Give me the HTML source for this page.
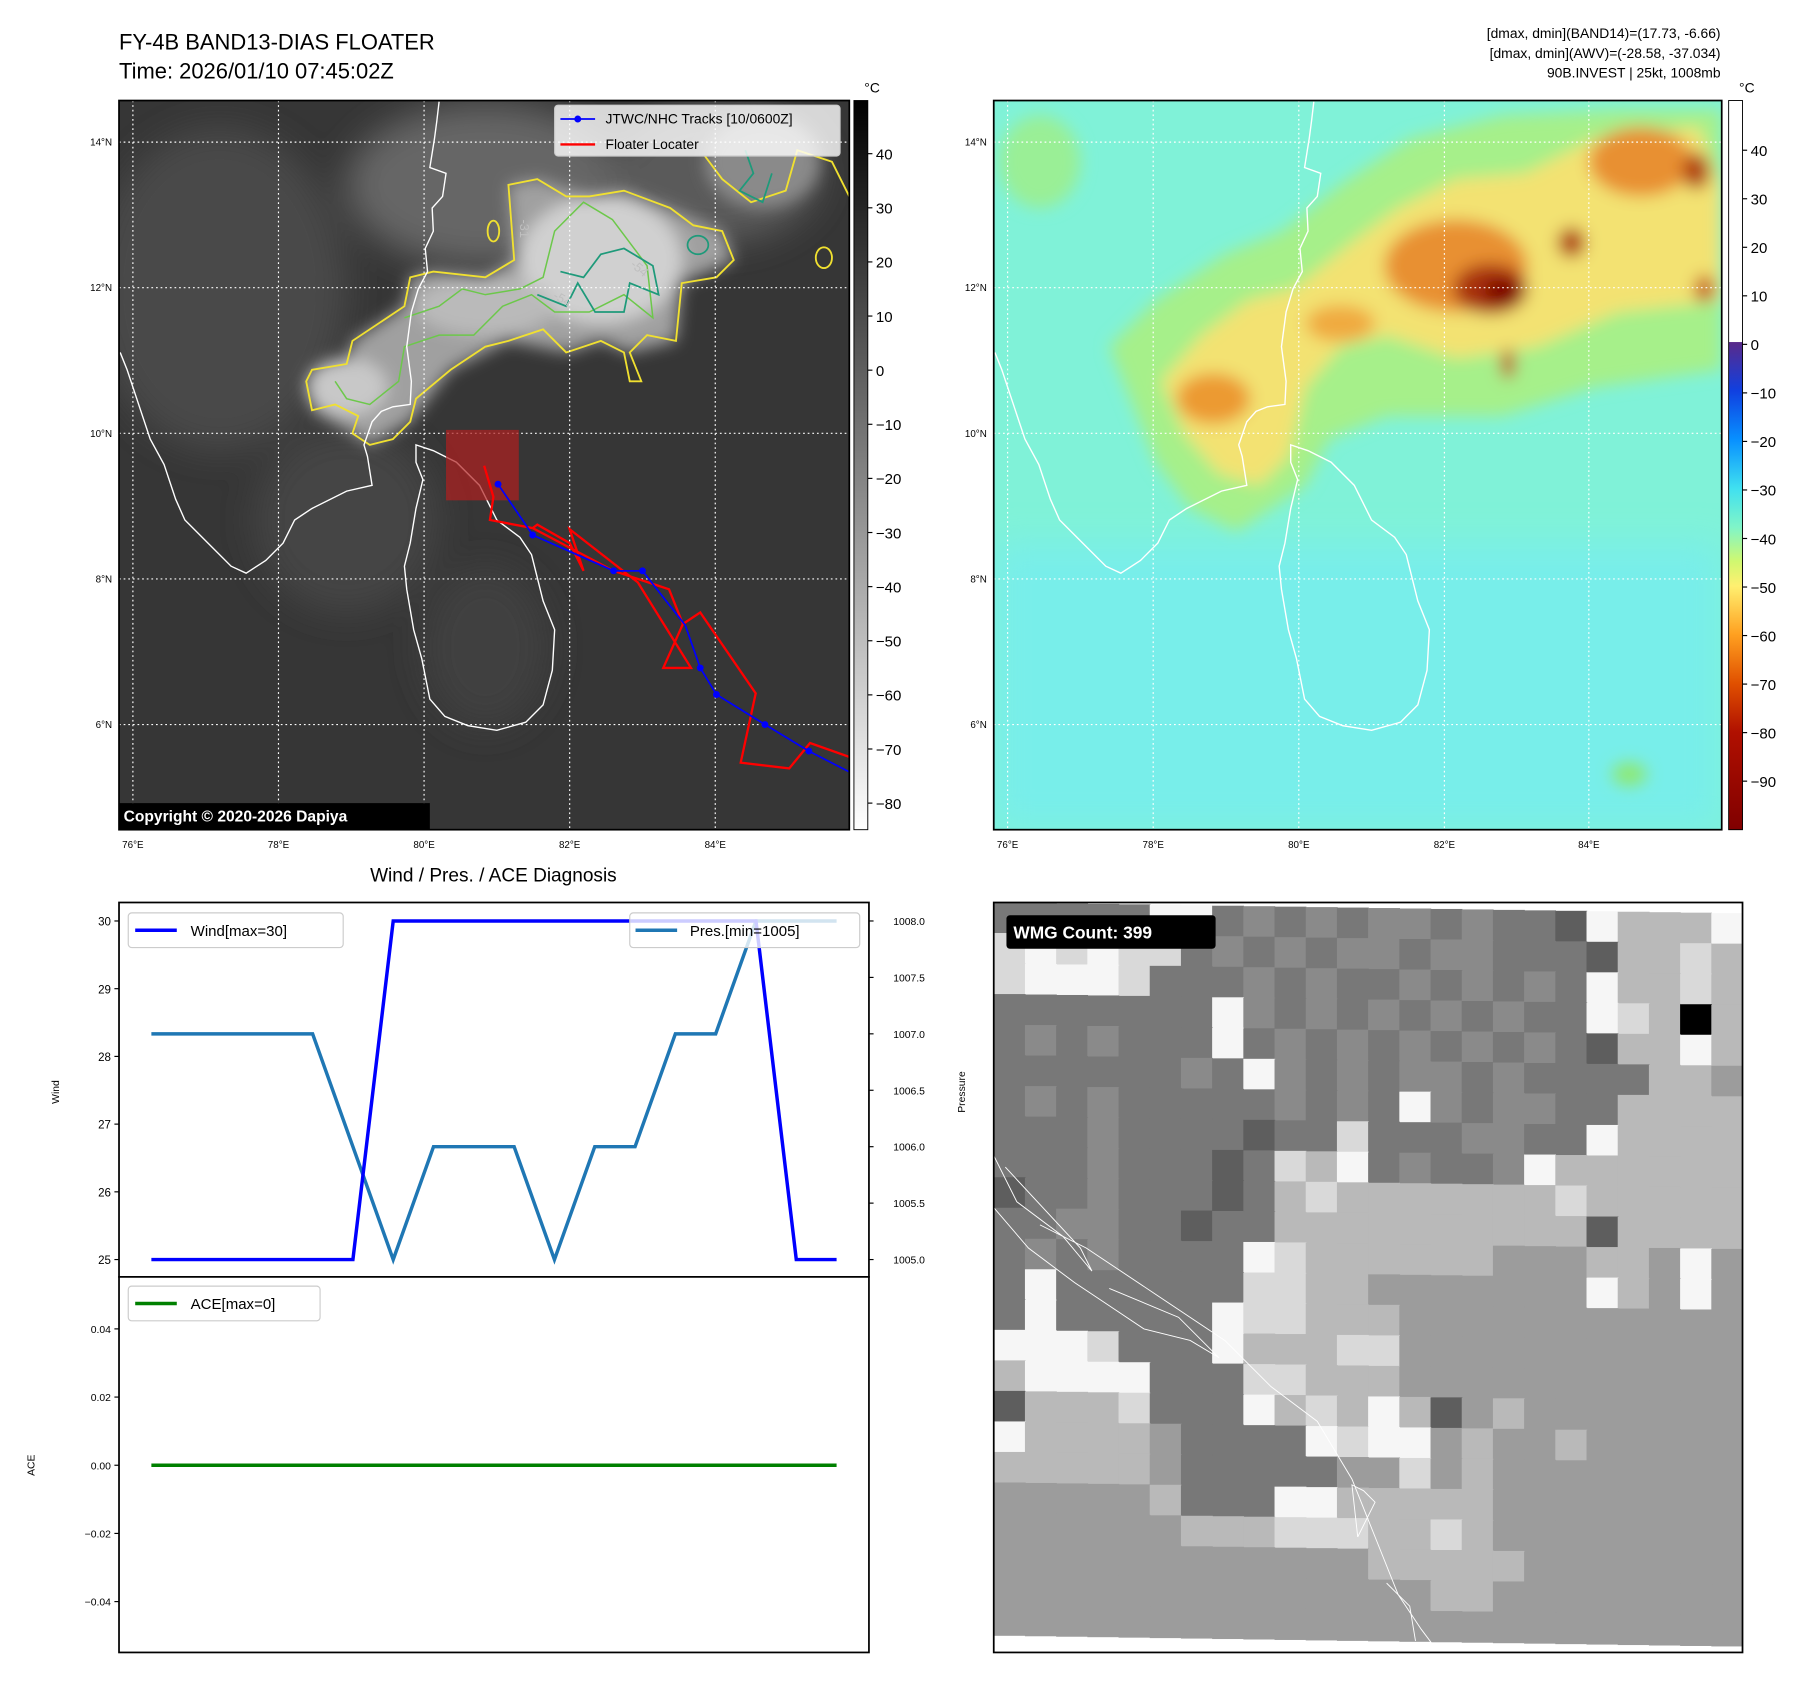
<!DOCTYPE html>
<html><head><meta charset="utf-8"><style>
html,body{margin:0;padding:0;background:#fff}
svg{display:block;font-family:"Liberation Sans",sans-serif}
</style></head><body>
<svg id="fig" width="1813" height="1690" viewBox="0 0 1569 1462.5" preserveAspectRatio="none" xmlns="http://www.w3.org/2000/svg">
<defs>
<filter id="b8" x="-20%" y="-20%" width="140%" height="140%"><feGaussianBlur stdDeviation="7"/></filter>
<filter id="b15" x="-30%" y="-30%" width="160%" height="160%"><feGaussianBlur stdDeviation="15"/></filter>
<clipPath id="c1"><rect x="103" y="87" width="632" height="631"/></clipPath>
<clipPath id="c2"><rect x="860" y="87" width="630" height="631"/></clipPath>
<clipPath id="c3"><rect x="860" y="781" width="648" height="649"/></clipPath>
<linearGradient id="gcb1" x1="0" y1="0" x2="0" y2="1"><stop offset="0" stop-color="#000"/><stop offset="1" stop-color="#fff"/></linearGradient>
<linearGradient id="gcb2" x1="0" y1="0" x2="0" y2="1">
<stop offset="0" stop-color="#5a2a8a"/><stop offset="0.1" stop-color="#1040e0"/><stop offset="0.2" stop-color="#0890ff"/><stop offset="0.3" stop-color="#40e0f0"/><stop offset="0.38" stop-color="#80f5c8"/><stop offset="0.45" stop-color="#d0f870"/><stop offset="0.5" stop-color="#fff070"/><stop offset="0.6" stop-color="#ffa020"/><stop offset="0.7" stop-color="#e05000"/><stop offset="0.8" stop-color="#b01000"/><stop offset="1" stop-color="#800000"/></linearGradient>
<g id="coast" fill="none" stroke="#fff" stroke-width="1.2">
<polyline points="380,88 378,105 376,120 372,145 386,150 383,170 374,180 375,200 368,215 370,235 362,250 356,270 352,300 356,330 355,350 340,352 330,356 322,365 315,385 318,395 322,420 300,425 270,440 255,450 245,470 230,485 213,496 200,490 180,470 160,450 152,432 142,402 130,380 120,350 110,320 104,305"/>
<polygon points="360,385 375,390 395,400 415,420 430,450 450,465 460,480 470,520 480,545 478,580 470,610 455,625 430,632 405,628 385,620 372,605 365,570 358,545 352,510 350,490 355,470 360,440 366,415 360,400"/>
</g>
</defs>

<text x="103" y="43" font-size="19">FY-4B BAND13-DIAS FLOATER</text>
<text x="103" y="68" font-size="19">Time: 2026/01/10 07:45:02Z</text>
<g font-size="12" text-anchor="end">
<text x="1489" y="33">[dmax, dmin](BAND14)=(17.73, -6.66)</text>
<text x="1489" y="50">[dmax, dmin](AWV)=(-28.58, -37.034)</text>
<text x="1489" y="67">90B.INVEST | 25kt, 1008mb</text></g>

<!-- Panel 1 -->
<g clip-path="url(#c1)">
<rect x="103" y="87" width="632" height="631" fill="#363636"/>
<g filter="url(#b15)">
<ellipse cx="190" cy="250" rx="110" ry="140" fill="#4a4a4a"/>
<ellipse cx="300" cy="450" rx="80" ry="80" fill="#444"/>
<ellipse cx="420" cy="560" rx="55" ry="70" fill="#404040"/>
<ellipse cx="420" cy="160" rx="120" ry="70" fill="#666"/>
<ellipse cx="620" cy="150" rx="90" ry="60" fill="#5a5a5a"/>
</g>
<g filter="url(#b8)">
<polygon points="270,320 300,315 305,295 350,265 355,240 375,235 420,240 445,225 440,160 465,155 510,170 540,165 580,180 625,200 635,225 590,245 585,295 545,305 520,295 490,305 440,295 390,320 355,365 320,385 305,375 270,355" fill="#a0a0a0"/>
<ellipse cx="520" cy="225" rx="70" ry="55" fill="#d0d0d0"/>
<ellipse cx="300" cy="335" rx="35" ry="25" fill="#c8c8c8"/>
<ellipse cx="420" cy="265" rx="60" ry="25" fill="#bababa"/>
<ellipse cx="660" cy="140" rx="50" ry="40" fill="#8a8a8a"/>
</g>
<g fill="none" stroke="#f0e030" stroke-width="1.6">
<polygon points="270,320 300,315 305,295 350,265 355,240 375,235 420,240 445,225 440,160 465,155 490,170 510,170 540,165 580,180 600,195 625,200 635,225 620,240 590,245 585,295 560,290 545,305 555,330 545,330 540,305 520,295 490,305 470,285 440,295 420,300 390,320 360,345 355,365 340,380 320,385 305,375 310,360 290,350 270,355 265,330"/>
<polyline points="610,135 625,155 650,175 680,165 690,130 720,140 735,170"/>
<ellipse cx="427" cy="200" rx="5" ry="9"/><ellipse cx="713" cy="223" rx="7" ry="9"/>
</g>
<g fill="none" stroke="#6cc84a" stroke-width="1.3">
<polyline points="290,330 300,345 320,350 345,330 350,300 380,290 410,290 435,265 460,255 480,270 510,270 540,255 565,275 560,230 530,190 505,175 480,200 470,240 450,250 420,255 400,250 380,265 350,275"/>
</g>
<g fill="none" stroke="#1e9a7a" stroke-width="1.5">
<polyline points="465,255 490,265 500,245 515,270 540,270 545,245 570,255 565,230 540,215 520,220 505,240 485,235"/>
<ellipse cx="604" cy="212" rx="9" ry="8"/><polyline points="645,130 652,150 640,165 660,175 668,150"/>
</g>
<g fill="#bfbfbf" font-size="11">
<text x="450" y="190" transform="rotate(90 450 190)">-31</text>
<text x="545" y="230" transform="rotate(40 545 230)">-54</text>
<text x="478" y="258" transform="rotate(30 478 258)">-54</text></g>
<g stroke="#fff" stroke-width="1" stroke-dasharray="1.5,2.5">
<line x1="115" y1="87" x2="115" y2="718"/><line x1="241" y1="87" x2="241" y2="718"/><line x1="367" y1="87" x2="367" y2="718"/><line x1="493" y1="87" x2="493" y2="718"/><line x1="619" y1="87" x2="619" y2="718"/>
<line x1="103" y1="123" x2="735" y2="123"/><line x1="103" y1="249" x2="735" y2="249"/><line x1="103" y1="375" x2="735" y2="375"/><line x1="103" y1="501" x2="735" y2="501"/><line x1="103" y1="627" x2="735" y2="627"/></g>
<use href="#coast"/>
<rect x="386" y="372" width="63" height="61" fill="#b02020" fill-opacity="0.7"/>
<polyline fill="none" stroke="#f00" stroke-width="2" points="419,403 427,430 424,450 461,457 531,494 579,510 591,540 574,578 598,578 552,504 493,458 505,494 493,470 465,454 461,457"/>
<polyline fill="none" stroke="#f00" stroke-width="2" points="591,540 606,530 654,600 641,660 683,665 701,643 735,655"/>
<polyline fill="none" stroke="#00f" stroke-width="1.5" points="431,419 461,463 531,494 556,494 593,541 606,578 620,601 662,627 700,650 735,668"/>
<g fill="#00f"><circle cx="431" cy="419" r="3"/><circle cx="461" cy="463" r="3"/><circle cx="531" cy="494" r="3"/><circle cx="556" cy="494" r="3"/><circle cx="606" cy="578" r="3"/><circle cx="620" cy="601" r="3"/><circle cx="662" cy="627" r="3"/><circle cx="700" cy="650" r="3"/></g>
<g><rect x="480" y="91" width="247" height="44" rx="3" fill="#fff" fill-opacity="0.8" stroke="#ccc"/>
<line x1="485" y1="103" x2="515" y2="103" stroke="#00f" stroke-width="1.5"/><circle cx="500" cy="103" r="3" fill="#00f"/>
<text x="524" y="107" font-size="12">JTWC/NHC Tracks [10/0600Z]</text>
<line x1="485" y1="125" x2="515" y2="125" stroke="#f00" stroke-width="2"/>
<text x="524" y="129" font-size="12">Floater Locater</text></g>
<rect x="103" y="695" width="269" height="23" fill="#000"/>
<text x="107" y="711" fill="#fff" font-size="13.5" font-weight="bold">Copyright © 2020-2026 Dapiya</text>
</g>
<rect x="103" y="87" width="632" height="631" fill="none" stroke="#000" stroke-width="1.5"/>

<!-- Panel 2 -->
<g clip-path="url(#c2)">
<rect x="860" y="87" width="630" height="631" fill="#80f2d8"/>
<rect x="860" y="470" width="630" height="248" fill="#78eeea" filter="url(#b15)"/>
<g filter="url(#b8)">
<polygon points="960,300 1000,260 1060,220 1110,200 1160,160 1220,120 1300,100 1400,95 1490,95 1490,320 1380,335 1300,360 1200,360 1150,380 1130,420 1070,460 1030,440 1000,400 980,350" fill="#a6f08a"/>
<ellipse cx="900" cy="140" rx="35" ry="40" fill="#9aef96"/>
<polygon points="1005,330 1040,290 1080,260 1120,250 1170,210 1210,180 1260,155 1320,150 1380,120 1470,110 1490,160 1490,260 1400,270 1330,300 1260,310 1200,290 1160,300 1130,335 1115,395 1090,420 1055,410 1025,375" fill="#f3e272"/>
<ellipse cx="1050" cy="345" rx="32" ry="22" fill="#ec9a30"/>
<ellipse cx="1260" cy="230" rx="62" ry="40" fill="#e89030"/>
<ellipse cx="1160" cy="280" rx="30" ry="16" fill="#f0aa40"/>
<ellipse cx="1420" cy="140" rx="45" ry="30" fill="#e89030"/>
<ellipse cx="1290" cy="250" rx="32" ry="22" fill="#a83008"/>
<ellipse cx="1300" cy="252" rx="16" ry="11" fill="#7a0000"/>
<ellipse cx="1360" cy="210" rx="12" ry="13" fill="#b04010"/>
<ellipse cx="1468" cy="148" rx="12" ry="16" fill="#b04010"/>
<ellipse cx="1475" cy="250" rx="8" ry="12" fill="#c04010"/>
<ellipse cx="1305" cy="315" rx="6" ry="13" fill="#c04010"/>
<ellipse cx="1410" cy="670" rx="15" ry="10" fill="#8fe870"/>
</g>
<g stroke="#fff" stroke-width="1" stroke-dasharray="1.5,2.5">
<line x1="872" y1="87" x2="872" y2="718"/><line x1="998" y1="87" x2="998" y2="718"/><line x1="1124" y1="87" x2="1124" y2="718"/><line x1="1250" y1="87" x2="1250" y2="718"/><line x1="1375" y1="87" x2="1375" y2="718"/>
<line x1="860" y1="123" x2="1490" y2="123"/><line x1="860" y1="249" x2="1490" y2="249"/><line x1="860" y1="375" x2="1490" y2="375"/><line x1="860" y1="501" x2="1490" y2="501"/><line x1="860" y1="627" x2="1490" y2="627"/></g>
<use href="#coast" transform="translate(757,0)"/>
</g>
<rect x="860" y="87" width="630" height="631" fill="none" stroke="#000" stroke-width="1.5"/>

<!-- map ticks -->
<g font-size="8.5">
<g text-anchor="middle"><text x="115" y="734">76°E</text><text x="241" y="734">78°E</text><text x="367" y="734">80°E</text><text x="493" y="734">82°E</text><text x="619" y="734">84°E</text>
<text x="872" y="734">76°E</text><text x="998" y="734">78°E</text><text x="1124" y="734">80°E</text><text x="1250" y="734">82°E</text><text x="1375" y="734">84°E</text></g>
<g text-anchor="end"><text x="97" y="126">14°N</text><text x="97" y="252">12°N</text><text x="97" y="378">10°N</text><text x="97" y="504">8°N</text><text x="97" y="630">6°N</text>
<text x="854" y="126">14°N</text><text x="854" y="252">12°N</text><text x="854" y="378">10°N</text><text x="854" y="504">8°N</text><text x="854" y="630">6°N</text></g></g>

<!-- colorbars -->
<g>
<rect x="739" y="87" width="12" height="631" fill="url(#gcb1)" stroke="#000" stroke-width="0.8"/>
<text x="748" y="80" font-size="12">°C</text>
<g id="cb1t" font-size="13"></g></g>
<g>
<rect x="1496" y="87" width="12" height="209" fill="#fff"/>
<rect x="1496" y="296" width="12" height="422" fill="url(#gcb2)"/>
<rect x="1496" y="87" width="12" height="631" fill="none" stroke="#000" stroke-width="0.8"/>
<text x="1505" y="80" font-size="12">°C</text>
<g id="cb2t" font-size="13"></g></g>

<!-- Diagnosis chart -->
<text x="427" y="763" font-size="16.5" text-anchor="middle">Wind / Pres. / ACE Diagnosis</text>
<g id="windAx"></g>
<g id="aceAx"></g>

<!-- WMG -->
<g>
<g id="wmg" clip-path="url(#c3)"></g>
<g clip-path="url(#c3)" fill="none" stroke="#fff" stroke-width="0.8">
<polyline points="860,1000 880,1040 920,1070 945,1100 935,1080 870,1010"/>
<polyline points="860,1045 890,1080 930,1110 960,1130 990,1150 1030,1160 1055,1175 1020,1140 960,1115"/>
<polyline points="900,1060 940,1080 1000,1120 1060,1160 1100,1200 1140,1230 1170,1280 1190,1330 1210,1380 1230,1410 1245,1430"/>
<polyline points="1175,1330 1190,1300 1180,1290 1170,1285 1175,1330"/>
<polyline points="1200,1370 1220,1390 1225,1420"/>
</g>
<rect x="860" y="781" width="648" height="649" fill="none" stroke="#000" stroke-width="1.5"/>
<rect x="871" y="792" width="181" height="29" rx="3" fill="#000"/>
<text x="877" y="812" fill="#fff" font-size="15" font-weight="bold">WMG Count: 399</text>
</g>
</svg>
<script>
const windVals=[25,25,25,25,25,25,30,30,30,30,30,30,30,30,30,30,25,25];
const presVals=[1007,1007,1007,1007,1007,1006,1005,1006,1006,1006,1005,1006,1006,1007,1007,1008,1008,1008];
const aceVals=[0,0,0,0,0,0,0,0,0,0,0,0,0,0,0,0,0,0];
const windTicks=[25,26,27,28,29,30];
const presTicks=[1005.0,1005.5,1006.0,1006.5,1007.0,1007.5,1008.0];
const aceTicks=[-0.04,-0.02,0.00,0.02,0.04];
const cb1Ticks=[40,30,20,10,0,-10,-20,-30,-40,-50,-60,-70,-80];
const cb2Ticks=[40,30,20,10,0,-10,-20,-30,-40,-50,-60,-70,-80,-90];
const wmgRows=["444449945454554544397779","898988454545545544437787","899984445454454545497787","444444495454545454498727","454544494545454545437797","444444549545455454444776","454544444545495455447777","444544443448444554497777","444544434879454459777777","344544434787777777877777","445544344777777777737777","454544449877777766677696","494444448877666666697696","494444498877766666666666","999844497778866666666666","799994448877766666666666","377784449787973676666666","977776444498996766766666","777776444446686766666666","666667444997777766666666","666666777888778766666666","666666666666777776666666","666666666666667766666666","666666666666666666666666"];
const NS="http://www.w3.org/2000/svg";
function mk(tag,attrs,parent,txt){const e=document.createElementNS(NS,tag);for(const k in attrs)e.setAttribute(k,attrs[k]);if(txt!==undefined)e.textContent=txt;parent.appendChild(e);return e;}
const cb1=document.getElementById('cb1t');
const ycb1=v=>133+(40-v)*(695-133)/120;
cb1Ticks.forEach(v=>{const y=ycb1(v);mk('line',{x1:751,y1:y,x2:755,y2:y,stroke:'#000'},cb1);
const t=mk('text',{x:758,y:y+5},cb1,String(v).replace('-','\u2212'));

});
const cb2=document.getElementById('cb2t');
const ycb2=v=>298+(0-v)*(676-298)/90;
cb2Ticks.forEach(v=>{const y=ycb2(v);mk('line',{x1:1508,y1:y,x2:1512,y2:y,stroke:'#000'},cb2);
const t=mk('text',{x:1515,y:y+5},cb2,String(v).replace('-','\u2212'));

});
const W=document.getElementById('windAx');
const X=i=>131+i*(724-131)/(windVals.length-1);
const YW=v=>1090+(v-25)*(797-1090)/5;
const YP=p=>1090+(p-1005)*(797-1090)/3;
mk('rect',{x:103,y:781,width:649,height:324,fill:'#fff',stroke:'#000','stroke-width':1.5},W);
windTicks.forEach(v=>{const y=YW(v);mk('line',{x1:99,y1:y,x2:103,y2:y,stroke:'#000'},W);
const t=mk('text',{x:96,y:y+4,'font-size':10,'text-anchor':'end'},W,String(v));

});
presTicks.forEach(v=>{const y=YP(v);mk('line',{x1:752,y1:y,x2:756,y2:y,stroke:'#000'},W);
const t=mk('text',{x:773,y:y+3.5,'font-size':9},W,v.toFixed(1));

});
mk('text',{x:0,y:0,'font-size':9,transform:'translate(51,945) rotate(-90)','text-anchor':'middle'},W,'Wind');
mk('text',{x:0,y:0,'font-size':9,transform:'translate(835,945) rotate(-90)','text-anchor':'middle'},W,'Pressure');
const pl=mk('polyline',{points:presVals.map((v,i)=>X(i)+','+YP(v)).join(' '),fill:'none',stroke:'#1f77b4','stroke-width':3},W);


const wl=mk('polyline',{points:windVals.map((v,i)=>X(i)+','+YW(v)).join(' '),fill:'none',stroke:'#0000ff','stroke-width':3},W);


const lg1=mk('g',{},W);


mk('rect',{x:111,y:790,width:186,height:30,rx:3,fill:'#fff','fill-opacity':0.8,stroke:'#ccc'},lg1);
mk('line',{x1:117,y1:805,x2:153,y2:805,stroke:'#00f','stroke-width':3},lg1);
mk('text',{x:165,y:810,'font-size':13},lg1,'Wind[max=30]');
const lg2=mk('g',{},W);


mk('rect',{x:545,y:790,width:199,height:30,rx:3,fill:'#fff','fill-opacity':0.8,stroke:'#ccc'},lg2);
mk('line',{x1:550,y1:805,x2:586,y2:805,stroke:'#1f77b4','stroke-width':3},lg2);
mk('text',{x:597,y:810,'font-size':13},lg2,'Pres.[min=1005]');
const A=document.getElementById('aceAx');
const YA=v=>1268-v*(1268-1150)/0.04;
mk('rect',{x:103,y:1105,width:649,height:325,fill:'#fff',stroke:'#000','stroke-width':1.5},A);
aceTicks.forEach(v=>{const y=YA(v);mk('line',{x1:99,y1:y,x2:103,y2:y,stroke:'#000'},A);
const t=mk('text',{x:96,y:y+3.5,'font-size':9,'text-anchor':'end'},A,v.toFixed(2).replace('-','\u2212'));

});
mk('text',{x:0,y:0,'font-size':9,transform:'translate(30,1268) rotate(-90)','text-anchor':'middle'},A,'ACE');
const al=mk('polyline',{points:aceVals.map((v,i)=>X(i)+','+YA(v)).join(' '),fill:'none',stroke:'#008000','stroke-width':3},A);


const lg3=mk('g',{},A);


mk('rect',{x:111,y:1113,width:166,height:30,rx:3,fill:'#fff','fill-opacity':0.8,stroke:'#ccc'},lg3);
mk('line',{x1:117,y1:1128,x2:153,y2:1128,stroke:'#008000','stroke-width':3},lg3);
mk('text',{x:165,y:1133,'font-size':13},lg3,'ACE[max=0]');
const G=document.getElementById('wmg');
const gray={3:'#5e5e5e',4:'#787878',5:'#8a8a8a',6:'#9c9c9c',7:'#b9b9b9',8:'#d9d9d9',9:'#f6f6f6'};
mk('rect',{x:860,y:781,width:648,height:649,fill:'#fff'},G);
const cw=648/24, ch=(1415-781)/24;
wmgRows.forEach((row,r)=>{for(let c=0;c<24;c++){mk('rect',{x:860+c*cw,y:781+r*ch+(c*0.4),width:cw+0.6,height:ch+0.6,fill:gray[row[c]]},G);}});
</script>
</body></html>
